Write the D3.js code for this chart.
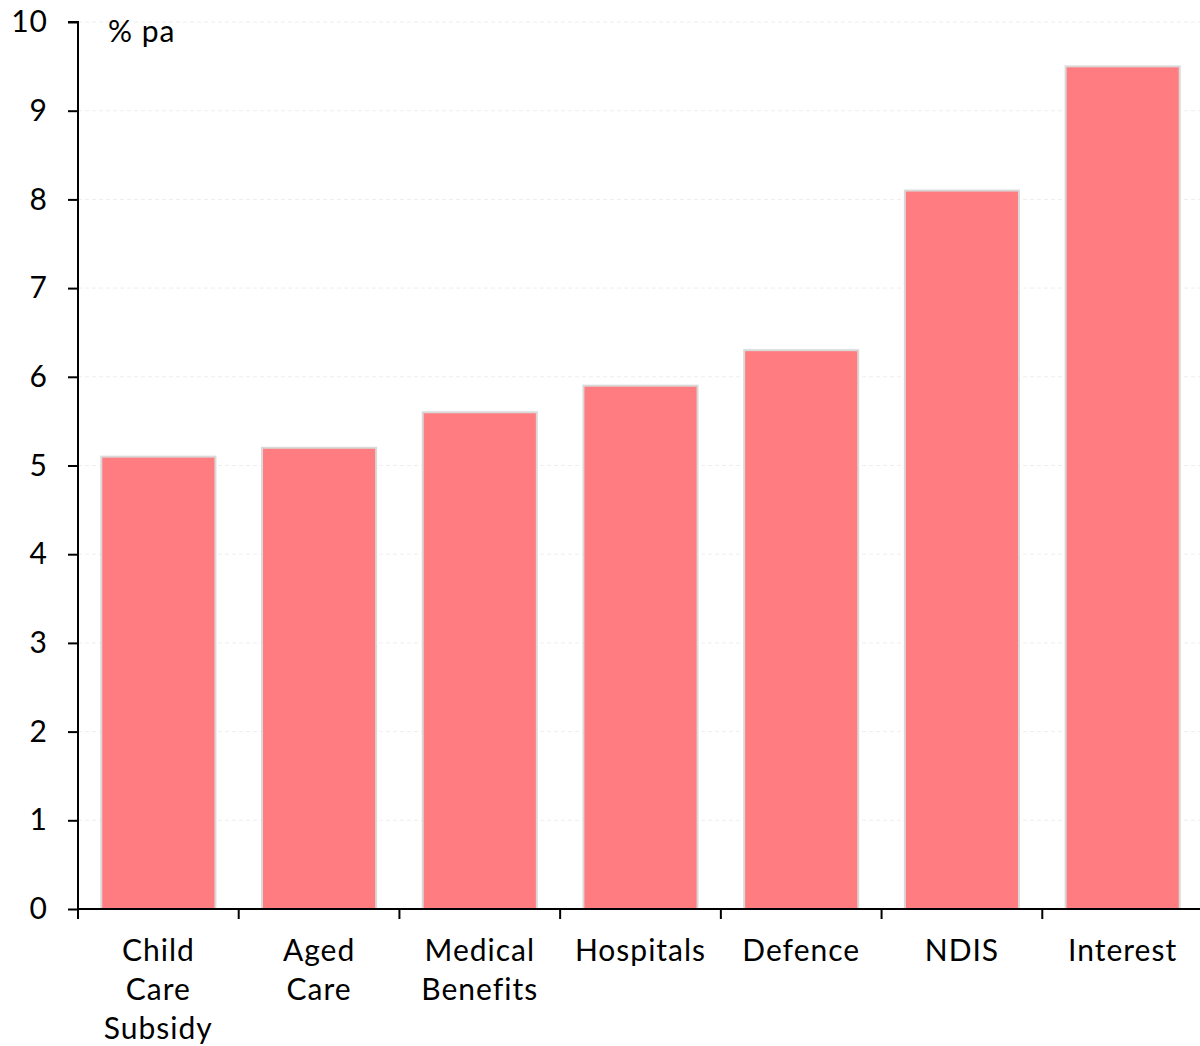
<!DOCTYPE html>
<html><head><meta charset="utf-8">
<script src="https://cdn.jsdelivr.net/npm/d3@7"></script>
<style>body{margin:0;background:#fff;} svg text{font-family:"Century Gothic","Lato","Open Sans",sans-serif;letter-spacing:1px;}</style>
</head><body>
<svg id="c" width="1200" height="1046"></svg>
<script>
const categories = [["Child","Care","Subsidy"],["Aged","Care"],["Medical","Benefits"],["Hospitals"],["Defence"],["NDIS"],["Interest"]];
const values = [5.1, 5.2, 5.6, 5.9, 6.3, 8.1, 9.5];
const yTicks = [0,1,2,3,4,5,6,7,8,9,10];
const unitLabel = "% pa";

const svg = d3.select("#c");
const x0 = 78, x1 = 1203, yb = 909, yt = 22;
const keys = categories.map((c,i)=>i);
const x = d3.scaleBand().domain(keys).range([x0, x1]).paddingInner(0.29).paddingOuter(0.145);
const y = d3.scaleLinear().domain([0,10]).range([yb, yt]);

// gridlines
svg.append("g").selectAll("line").data(yTicks.filter(d=>d>0)).join("line")
  .attr("x1", x0).attr("x2", 1200).attr("y1", d=>y(d)).attr("y2", d=>y(d))
  .attr("stroke", "#eeeeee").attr("stroke-width", 1).attr("stroke-dasharray", "4,3");

// bars
svg.append("g").selectAll("rect").data(values).join("rect")
  .attr("x", (d,i)=>x(i)).attr("width", x.bandwidth())
  .attr("y", d=>y(d)).attr("height", d=>yb - y(d))
  .attr("fill", "#ff7c80").attr("stroke", "#d9d9d9").attr("stroke-width", 2);

// y axis
const ya = svg.append("g").attr("transform", `translate(${x0},0)`)
  .call(d3.axisLeft(y).tickValues(yTicks).tickSize(10).tickPadding(20).tickFormat(d3.format("d")));
ya.select(".domain").attr("stroke", "#000").attr("stroke-width", 2).attr("d", `M-10,${yt}H0V${yb}`);
ya.selectAll(".tick line").attr("stroke", "#000").attr("stroke-width", 2);
ya.selectAll(".tick text").attr("font-size", 30).attr("fill", "#000");

// x axis
const xa = svg.append("g").attr("transform", `translate(0,${yb})`);
xa.append("line").attr("x1", x0).attr("x2", 1200).attr("y1", 0).attr("y2", 0).attr("stroke", "#000").attr("stroke-width", 2);
xa.selectAll("line.t").data(keys).join("line").attr("class","t")
  .attr("x1", i=>x(i) - (x.step()-x.bandwidth())/2).attr("x2", i=>x(i) - (x.step()-x.bandwidth())/2)
  .attr("y1", 0).attr("y2", 10).attr("stroke", "#000").attr("stroke-width", 2);
const lab = xa.selectAll("text.l").data(categories).join("text").attr("class","l")
  .attr("text-anchor","middle").attr("font-size", 30).attr("fill","#000")
  .attr("transform", (d,i)=>`translate(${x(i)+x.bandwidth()/2},0)`);
lab.selectAll("tspan").data(d=>d).join("tspan").attr("x",0).attr("y",(d,j)=>52+j*39).text(d=>d);

svg.append("text").attr("x", 108).attr("y", 42).attr("font-size", 30).attr("fill","#000").text(unitLabel);
</script>
</body></html>
